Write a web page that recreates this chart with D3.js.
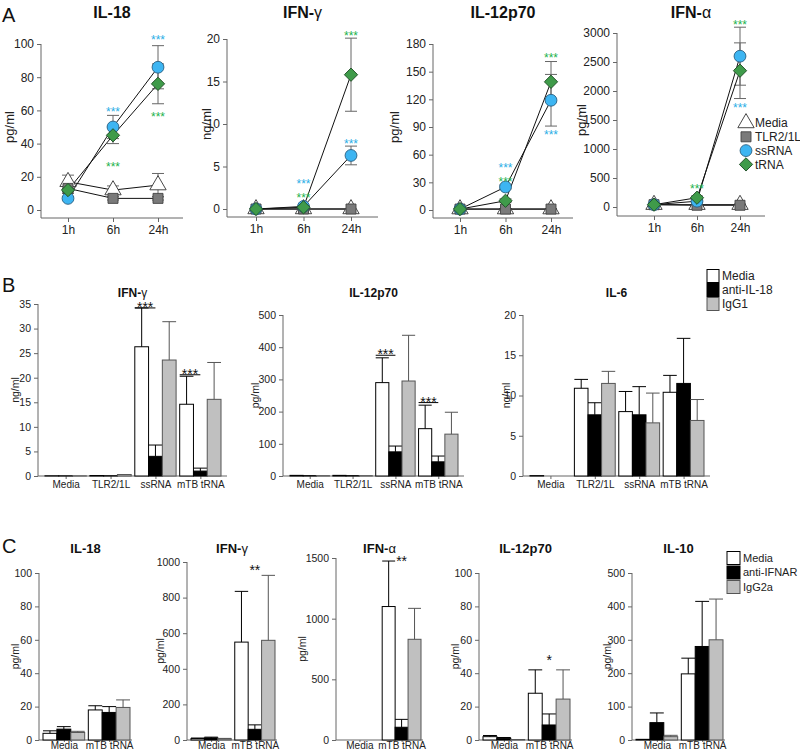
<!DOCTYPE html>
<html><head><meta charset="utf-8">
<script src="https://cdn.jsdelivr.net/npm/d3@7"></script>
<style>body{margin:0;background:#fff} svg{display:block} text{font-family:"Liberation Sans",Arial,sans-serif}</style>
</head><body><svg id="c" width="800" height="752"></svg>
<script>
// ================= DATA =================
// ---- Panel A (time course) ----
const timePoints = ["1h","6h","24h"];
const aSeries = ["Media","TLR2/1L","ssRNA","tRNA"];
const aTitles = ["IL-18","IFN-γ","IL-12p70","IFN-α"];
const aUnits = ["pg/ml","ng/ml","pg/ml","pg/ml"];
const aMax = [100,20,180,3000];
const aStep = [20,5,30,500];
const aIL18Mean = [[17,12,15],[13,7,7],[7,50,86],[12,45,76]];
const aIL18Err  = [[4,2.5,7],[2,1,1],[1,7,13],[2,5,12]];
const aIFNgMean = [[0,0,0],[0,0,0],[0,0.3,6.3],[0,0.2,15.8]];
const aIFNgErr  = [[0,0,0],[0,0,0],[0,0.1,1.1],[0,0.1,4.3]];
const aIL12Mean = [[1,1,1],[1,1,1],[1,25,119],[1,10,139]];
const aIL12Err  = [[1,0.5,0.5],[1,0.5,0.5],[0.5,2,28],[3,2,22]];
const aIFNaMean = [[40,40,40],[40,30,30],[40,100,2600],[40,160,2350]];
const aIFNaErr  = [[10,10,10],[10,10,10],[10,20,500],[10,30,480]];
// significance stars: [time, level (data units), series]
const aIL18Stars = [["6h",61,"ssRNA"],["6h",28,"tRNA"],["24h",104,"ssRNA"],["24h",58,"tRNA"]];
const aIFNgStars = [["6h",3.3,"ssRNA"],["6h",1.6,"tRNA"],["24h",20.7,"tRNA"],["24h",8.0,"ssRNA"]];
const aIL12Stars = [["6h",49,"ssRNA"],["6h",34,"tRNA"],["24h",168,"tRNA"],["24h",84.6,"ssRNA"]];
const aIFNaStars = [["6h",362,"tRNA"],["24h",3190,"tRNA"],["24h",1759,"ssRNA"]];

// ---- Panel B (anti-IL-18) ----
const bCats = ["Media","TLR2/1L","ssRNA","mTB tRNA"];
const bGroups = ["Media","anti-IL-18","IgG1"];
const bTitles = ["IFN-γ","IL-12p70","IL-6"];
const bUnits = ["ng/ml","pg/ml","ng/ml"];
const bMax = [35,500,20];
const bStep = [5,100,5];
const bIFNgMean = [[0.05,0.03,0.03],[0.1,0.05,0.3],[26.3,4.0,23.6],[14.6,1.0,15.6]];
const bIFNgErr  = [[0,0,0],[0,0,0],[7.9,2.3,7.8],[5.7,0.6,7.5]];
const bIL12Mean = [[2,1,1],[2,1,1],[290,75,295],[147,44,130]];
const bIL12Err  = [[0,0,0],[0,0,0],[77,18,142],[73,18,68]];
const bIL6Mean  = [[0.05,0,0],[10.9,7.6,11.5],[8.0,7.6,6.6],[10.4,11.5,6.9]];
const bIL6Err   = [[0,0,0],[1.1,1.5,1.5],[2.5,3.5,3.7],[2.1,5.6,2.6]];
const bIFNgSig = [["ssRNA",34.2,"***"],["mTB tRNA",20.6,"***"]];
const bIL12Sig = [["ssRNA",375,"***"],["mTB tRNA",228,"***"]];
const bIL6Sig = [];

// ---- Panel C (anti-IFNAR) ----
const cCats = ["Media","mTB tRNA"];
const cGroups = ["Media","anti-IFNAR","IgG2a"];
const cTitles = ["IL-18","IFN-γ","IFN-α","IL-12p70","IL-10"];
const cMax = [100,1000,1500,100,500];
const cStep = [20,200,500,20,100];
const cIL18Mean = [[4,6.5,4.5],[18,16.5,19.5]];
const cIL18Err  = [[1.5,1.5,0.7],[2.5,3.5,4.5]];
const cIFNgMean = [[8,12,7],[550,60,560]];
const cIFNgErr  = [[3,4,2],[285,25,365]];
const cIFNaMean = [[0,0,0],[1100,105,830]];
const cIFNaErr  = [[0,0,0],[375,65,255]];
const cIL12Mean = [[2,1,0.3],[28,9,24.5]];
const cIL12Err  = [[0.7,0.5,0],[14,6.6,17.5]];
const cIL10Mean = [[2,52,10],[198,280,300]];
const cIL10Err  = [[0,29,4],[47,135,122]];
const cIL18Sig = [];
const cIFNgSig = [["mTB tRNA","anti-IFNAR",972,"**"]];
const cIFNaSig = [["mTB tRNA","anti-IFNAR",1500,"**"]];
const cIL12Sig = [["mTB tRNA","anti-IFNAR",50,"*"]];
const cIL10Sig = [];

// ================= LAYOUT / STYLE =================
const svg = d3.select("#c");
const FONT = '"Liberation Sans", Arial, sans-serif';
const AX = "#666";
const seriesStyle = {
  "Media":   {shape:"triangle", fill:"#ffffff", stroke:"#333"},
  "TLR2/1L": {shape:"square",   fill:"#7a7a7a", stroke:"#444"},
  "ssRNA":   {shape:"circle",   fill:"#3db5f2", stroke:"#2b5f80"},
  "tRNA":    {shape:"diamond",  fill:"#3f9b4a", stroke:"#1f4f26"}
};
const starColor = {"ssRNA":"#2aaee6","tRNA":"#22b24c"};
const barFill = ["#ffffff","#000000","#c0c0c0"];
const barStroke = ["#000","#000","#555"];

const aLayout = [
  {x0:41, x1:183, xr:[68,158],  yTop:44, yBot:210, xAxisY:218, ylabX:9},
  {x0:227,x1:378, xr:[256,351], yTop:39, yBot:209, xAxisY:217, ylabX:206},
  {x0:433,x1:573, xr:[460,551], yTop:44, yBot:210, xAxisY:218, ylabX:394},
  {x0:617,x1:765, xr:[654,740], yTop:33, yBot:207, xAxisY:216, ylabX:581}
];
const bLayout = [
  {x0:38, x1:227, yTop:304, yBot:476, ylabX:15},
  {x0:283,x1:464, yTop:315, yBot:476, ylabX:255},
  {x0:523,x1:710, yTop:315, yBot:476, ylabX:506}
];
const cLayout = [
  {x0:39, x1:132, yTop:573, yBot:740, ylabX:15},
  {x0:187,x1:277, yTop:562, yBot:740, ylabX:160},
  {x0:336,x1:423, yTop:558, yBot:740, ylabX:302},
  {x0:479,x1:572, yTop:573, yBot:740, ylabX:455},
  {x0:632,x1:725, yTop:573, yBot:740, ylabX:607}
];

// ================= HELPERS =================
function addTitle(x, y, str, size) {
  const t = svg.append("text").attr("x",x).attr("y",y).attr("text-anchor","middle")
    .attr("font-size",size).attr("font-weight","bold").attr("fill","#111");
  const m = str.match(/^(.*?)([γα])$/);
  if (m) { t.append("tspan").text(m[1]); t.append("tspan").attr("font-weight","normal").text(m[2]); }
  else t.text(str);
}
function yLabel(x, y, str, size) {
  svg.append("text").attr("transform",`translate(${x},${y}) rotate(-90)`)
    .attr("text-anchor","middle").attr("dy","0.35em").attr("font-size",size).attr("fill","#222").text(str);
}
function styleAxis(g, size) {
  g.attr("font-family",FONT);
  g.select(".domain").remove();
  g.selectAll(".tick line").attr("stroke",AX);
  g.selectAll(".tick text").attr("font-size",size).attr("fill","#222");
}
function yAxis(x0, y, max, step, size, lineTop, lineBot) {
  const g = svg.append("g").attr("transform",`translate(${x0},0)`)
    .call(d3.axisLeft(y).tickValues(d3.range(0, max + step/2, step)).tickSize(4).tickPadding(3).tickFormat(d3.format("d")));
  styleAxis(g, size);
  g.append("line").attr("x1",0).attr("x2",0).attr("y1",lineTop).attr("y2",lineBot).attr("stroke",AX);
}
function symbolPath(shape) {
  if (shape === "triangle") return d3.symbol(d3.symbolTriangle, 115)();
  if (shape === "square") return d3.symbol(d3.symbolSquare, 100)();
  if (shape === "circle") return d3.symbol(d3.symbolCircle, 110)();
  return d3.symbol(d3.symbolSquare, 88)();
}
function drawMarker(g, name, x, y) {
  const st = seriesStyle[name];
  g.append("path").attr("d", symbolPath(st.shape))
    .attr("transform", `translate(${x},${y})` + (st.shape === "diamond" ? " rotate(45)" : ""))
    .attr("fill", st.fill).attr("stroke", st.stroke).attr("stroke-width", 0.9);
}

// ================= PANEL A =================
function drawA(i, mean, err, stars) {
  const L = aLayout[i];
  const y = d3.scaleLinear().domain([0, aMax[i]]).range([L.yBot, L.yTop]);
  const x = d3.scalePoint().domain(timePoints).range(L.xr);
  yAxis(L.x0, y, aMax[i], aStep[i], 12, L.yTop, L.xAxisY);
  svg.append("line").attr("x1",L.x0).attr("x2",L.x1).attr("y1",L.xAxisY).attr("y2",L.xAxisY).attr("stroke",AX);
  const gx = svg.append("g").attr("transform",`translate(0,${L.xAxisY})`)
    .call(d3.axisBottom(x).tickSize(4).tickPadding(3));
  styleAxis(gx, 12);
  addTitle((L.x0 + L.x1)/2, 18, aTitles[i], 16);
  yLabel(L.ylabX, (L.yTop + L.yBot)/2, aUnits[i], 13);
  const g = svg.append("g");
  // error bars
  aSeries.forEach((s, si) => {
    timePoints.forEach((t, k) => {
      const v = mean[si][k], e = err[si][k];
      if (e <= 0) return;
      const cx = x(t);
      g.append("line").attr("x1",cx).attr("x2",cx).attr("y1",y(Math.max(0,v-e))).attr("y2",y(v+e)).attr("stroke","#666");
      [v+e, Math.max(0,v-e)].forEach(val => g.append("line").attr("x1",cx-6).attr("x2",cx+6)
        .attr("y1",y(val)).attr("y2",y(val)).attr("stroke","#666"));
    });
  });
  // lines
  const line = d3.line().x((d,k) => x(timePoints[k])).y(d => y(d));
  aSeries.forEach((s, si) => {
    g.append("path").attr("d", line(mean[si])).attr("fill","none").attr("stroke","#111").attr("stroke-width",1);
  });
  // markers
  aSeries.forEach((s, si) => {
    timePoints.forEach((t, k) => drawMarker(g, s, x(t), y(mean[si][k])));
  });
  // stars
  stars.forEach(([t, lvl, s]) => {
    g.append("text").attr("x", x(t)).attr("y", y(lvl) + 7).attr("text-anchor","middle")
      .attr("font-size",12).attr("fill", starColor[s]).text("***");
  });
}
drawA(0, aIL18Mean, aIL18Err, aIL18Stars);
drawA(1, aIFNgMean, aIFNgErr, aIFNgStars);
drawA(2, aIL12Mean, aIL12Err, aIL12Stars);
drawA(3, aIFNaMean, aIFNaErr, aIFNaStars);

// legend A
aSeries.forEach((s, i) => {
  const yy = 123 + i * 13.8;
  drawMarker(svg, s, 746, yy);
  svg.append("text").attr("x",755).attr("y",yy).attr("dy","0.35em").attr("font-size",12).attr("fill","#222").text(s);
});

// ================= BAR CHARTS =================
function drawBars(L, cats, groups, title, titleY, titleSize, unit, max, step, mean, err, tickSize, labSize, padL, padR, xTick, xPad) {
  const y = d3.scaleLinear().domain([0, max]).range([L.yBot, L.yTop]);
  const xo = d3.scaleBand().domain(cats).range([L.x0 + padL, L.x1 - padR]).paddingInner(0.08);
  const xi = d3.scaleBand().domain(groups).range([0, xo.bandwidth()]);
  yAxis(L.x0, y, max, step, tickSize, L.yTop, L.yBot);
  svg.append("line").attr("x1",L.x0).attr("x2",L.x1).attr("y1",L.yBot).attr("y2",L.yBot).attr("stroke",AX);
  const xAxisScale = d3.scalePoint().domain(cats).range([xo(cats[0]) + xo.bandwidth()/2, xo(cats[cats.length-1]) + xo.bandwidth()/2]);
  const gx = svg.append("g").attr("transform",`translate(0,${L.yBot})`)
    .call(d3.axisBottom(xAxisScale).tickSize(xTick).tickPadding(xPad));
  styleAxis(gx, labSize);
  addTitle((L.x0 + L.x1)/2, titleY, title, titleSize);
  yLabel(L.ylabX, (L.yTop + L.yBot)/2, unit, 10.5);
  const g = svg.append("g");
  cats.forEach((c, ci) => {
    groups.forEach((gname, gi) => {
      const v = mean[ci][gi], e = err[ci][gi];
      const bx = xo(c) + xi(gname), bw = xi.bandwidth();
      g.append("rect").attr("x", bx).attr("y", y(v)).attr("width", bw).attr("height", Math.max(0, y(0) - y(v)))
        .attr("fill", barFill[gi]).attr("stroke", barStroke[gi]).attr("stroke-width", 1);
      if (e > 0) {
        const col = barStroke[gi];
        g.append("line").attr("x1", bx + bw/2).attr("x2", bx + bw/2).attr("y1", y(v)).attr("y2", y(v + e)).attr("stroke", col);
        g.append("line").attr("x1", bx).attr("x2", bx + bw).attr("y1", y(v + e)).attr("y2", y(v + e)).attr("stroke", col);
      }
    });
  });
  return {y, xo, xi, g};
}

// Panel B
const bData = [[bIFNgMean,bIFNgErr,bIFNgSig],[bIL12Mean,bIL12Err,bIL12Sig],[bIL6Mean,bIL6Err,bIL6Sig]];
bData.forEach(([m, e, sig], i) => {
  const r = drawBars(bLayout[i], bCats, bGroups, bTitles[i], 297, 12, bUnits[i], bMax[i], bStep[i], m, e, 10.5, 10, 7, 6, 3, 2);
  sig.forEach(([cat, lvl, str]) => {
    const xl = r.xo(cat) + r.xi(bGroups[0]);
    const xr = r.xo(cat) + r.xi(bGroups[1]) + r.xi.bandwidth()/2;
    const yy = r.y(lvl);
    r.g.append("line").attr("x1", xl).attr("x2", xr).attr("y1", yy).attr("y2", yy).attr("stroke", "#000");
    r.g.append("text").attr("x", (xl + xr)/2).attr("y", yy + 4).attr("text-anchor","middle")
      .attr("font-size", 14).attr("fill","#111").text(str);
  });
});
// legend B
bGroups.forEach((gname, i) => {
  const yy = 276 + i * 14;
  svg.append("rect").attr("x",707).attr("y",yy-6.5).attr("width",12).attr("height",13)
    .attr("fill",barFill[i]).attr("stroke",barStroke[i]);
  svg.append("text").attr("x",722).attr("y",yy).attr("dy","0.35em").attr("font-size",12).attr("fill","#222").text(gname);
});

// Panel C
const cData = [[cIL18Mean,cIL18Err,cIL18Sig],[cIFNgMean,cIFNgErr,cIFNgSig],[cIFNaMean,cIFNaErr,cIFNaSig],[cIL12Mean,cIL12Err,cIL12Sig],[cIL10Mean,cIL10Err,cIL10Sig]];
cData.forEach(([m, e, sig], i) => {
  const r = drawBars(cLayout[i], cCats, cGroups, cTitles[i], 553, 13, "pg/ml", cMax[i], cStep[i], m, e, 10.5, 10, 4, 2, 2, 0);
  sig.forEach(([cat, gname, lvl, str]) => {
    const xc = r.xo(cat) + r.xi(gname) + r.xi.bandwidth()/2;
    r.g.append("text").attr("x", xc).attr("y", r.y(lvl) + 8).attr("text-anchor","middle")
      .attr("font-size", 14).attr("fill","#111").text(str);
  });
});
// legend C
cGroups.forEach((gname, i) => {
  const yy = 558 + i * 14.5;
  svg.append("rect").attr("x",727).attr("y",yy-6.5).attr("width",13).attr("height",13)
    .attr("fill",barFill[i]).attr("stroke",barStroke[i]);
  svg.append("text").attr("x",743).attr("y",yy).attr("dy","0.35em").attr("font-size",11).attr("fill","#222").text(gname);
});

// panel letters
[["A",22],["B",292],["C",553]].forEach(([s, yy]) => {
  svg.append("text").attr("x",2).attr("y",yy).attr("font-size",20).attr("fill","#111").text(s);
});
</script>
</body></html>
